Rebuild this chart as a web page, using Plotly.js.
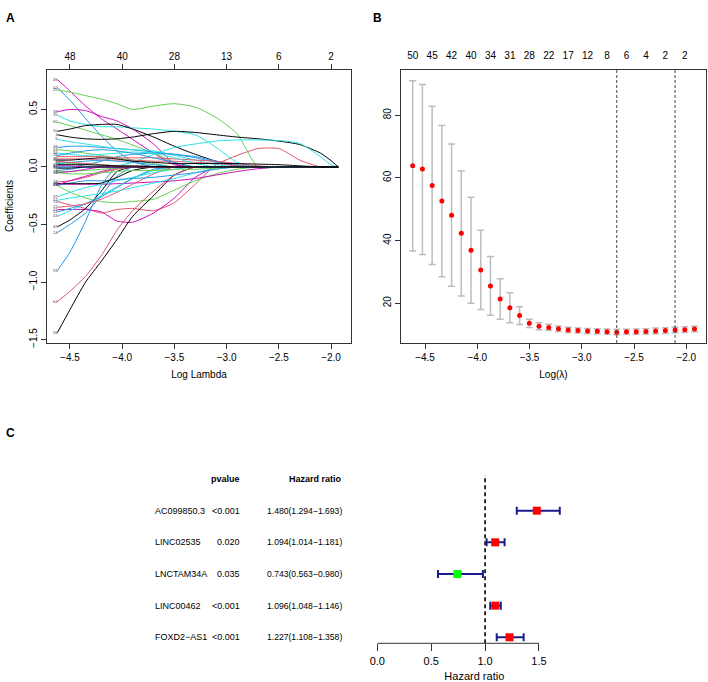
<!DOCTYPE html>
<html><head><meta charset="utf-8">
<script src="https://cdn.plot.ly/plotly-3.0.1.min.js"></script>
<style>html,body{margin:0;padding:0;background:#fff}#chart{width:708px;height:682px}</style>
</head><body><div id="chart"></div>
<script>
// ---------- Panel A: coefficient paths ----------
const logLambdaGrid = [-4.62,-4.5,-4.35,-4.2,-4.05,-3.9,-3.7,-3.5,-3.3,-3.1,-2.9,-2.7,-2.5,-2.3,-2.1,-2.0,-1.93];
const coefPaths = [
 [0.76,0.66,0.53,0.42,0.33,0.24,0.12,0.02,0,0,0,0,0,0,0,0,0],
 [0.69,0.58,0.42,0.27,0.14,0.05,0,0,0,0,0,0,0,0,0,0,0],
 [0.67,0.65,0.62,0.59,0.55,0.50,0.53,0.55,0.52,0.43,0.29,0,0,0,0,0,0],
 [0.48,0.50,0.49,0.44,0.40,0.33,0.20,0.03,0,0,0,0,0,0,0,0,0],
 [0.39,0.36,0.32,0.28,0.24,0.19,0.12,0.04,0,0,0,0,0,0,0,0,0],
 [0.45,0.40,0.37,0.35,0.35,0.34,0.33,0.31,0.28,0.17,0.04,0,0,0,0,0,0],
 [0.31,0.33,0.36,0.37,0.37,0.33,0.26,0.18,0.11,0.05,0.01,0,0,0,0,0,0],
 [0.28,0.26,0.245,0.24,0.245,0.26,0.29,0.31,0.30,0.28,0.26,0.245,0.225,0.195,0.12,0.055,0],
 [0,0,0,0,0.01,0.04,0.11,0.17,0.20,0.225,0.235,0.235,0.23,0.205,0.09,0.02,0],
 [0.17,0.18,0.18,0.17,0.16,0.15,0.13,0.11,0.08,0.04,0.01,0,0,0,0,0,0],
 [-0.30,-0.33,-0.36,-0.40,-0.37,-0.36,-0.38,-0.31,-0.15,0.02,0.10,0.16,0.16,0.06,0,0,0],
 [-0.37,-0.37,-0.37,-0.39,-0.47,-0.48,-0.40,-0.27,-0.09,0,0,0,0,0,0,0,0],
 [-0.16,-0.22,-0.27,-0.30,-0.31,-0.30,-0.28,-0.20,-0.12,-0.06,-0.02,0,0,0,0,0,0],
 [-0.145,-0.15,-0.15,-0.15,-0.145,-0.14,-0.13,-0.12,-0.10,-0.07,-0.04,-0.015,0,0,0,0,0],
 [-1.44,-1.24,-1.00,-0.82,-0.63,-0.43,-0.25,-0.07,0,0,0,0,0,0,0,0,0],
 [-1.17,-1.08,-0.95,-0.77,-0.55,-0.38,-0.21,-0.07,0,0,0,0,0,0,0,0,0],
 [-0.90,-0.74,-0.47,-0.16,0,0,0,0,0,0,0,0,0,0,0,0,0],
 [-0.57,-0.50,-0.40,-0.25,-0.08,0,0,0,0,0,0,0,0,0,0,0,0],
 [-0.52,-0.46,-0.36,-0.21,-0.04,0,0,0,0,0,0,0,0,0,0,0,0],
 [-0.43,-0.38,-0.32,-0.25,-0.17,-0.10,-0.03,0,0,0,0,0,0,0,0,0,0],
 [-0.39,-0.36,-0.32,-0.26,-0.18,-0.10,-0.02,0,0,0,0,0,0,0,0,0,0],
 [-0.35,-0.34,-0.32,-0.28,-0.22,-0.15,-0.06,0,0,0,0,0,0,0,0,0,0],
 [-0.29,-0.27,-0.25,-0.23,-0.21,-0.18,-0.14,-0.10,-0.05,-0.01,0,0,0,0,0,0,0],
 [-0.26,-0.22,-0.18,-0.15,-0.12,-0.09,-0.05,-0.02,0,0,0,0,0,0,0,0,0],
 [-0.16,-0.14,-0.12,-0.12,-0.11,-0.10,-0.09,-0.07,-0.05,-0.02,0,0,0,0,0,0,0],
 [-0.13,-0.12,-0.09,-0.05,-0.02,0,0,0,0,0,0,0,0,0,0,0,0],
 [-0.145,-0.145,-0.145,-0.14,-0.09,-0.03,0,0,0,0,0,0,0,0,0,0,0],
 [-0.155,-0.12,-0.08,-0.04,-0.01,0,0,0,0,0,0,0,0,0,0,0,0],
 [-0.04,-0.04,-0.03,-0.02,-0.01,0,0,0,0,0,0,0,0,0,0,0,0],
 [0.24,0.22,0.20,0.18,0.16,0.15,0.14,0.10,0.06,0.02,0,0,0,0,0,0,0],
 [0.15,0.14,0.12,0.10,0.08,0.06,0.03,0,0,0,0,0,0,0,0,0,0],
 [0,0,0.02,0.05,0.09,0.11,0.12,0.11,0.09,0.05,0.02,0,0,0,0,0,0],
 [0.09,0.09,0.09,0.09,0.08,0.08,0.08,0.07,0.06,0.05,0.03,0.01,0,0,0,0,0],
 [0.07,0.07,0.07,0.06,0.06,0.06,0.05,0.05,0.04,0.03,0.01,0,0,0,0,0,0],
 [0.04,0.03,0.03,0.02,0.01,0,0,0,0,0,0,0,0,0,0,0,0],
 [0.03,0.04,0.05,0.06,0.05,0.04,0.02,0,0,0,0,0,0,0,0,0,0],
 [0.01,0.01,0,0,0,0,0,0,0,0,0,0,0,0,0,0,0],
 [-0.03,-0.02,0,0,0,0,0,0,0,0,0,0,0,0,0,0,0],
 [-0.05,-0.04,-0.02,0,0,0,0,0,0,0,0,0,0,0,0,0,0],
 [-0.05,-0.06,-0.06,-0.05,-0.04,-0.03,-0.03,-0.02,-0.02,-0.01,0,0,0,0,0,0,0],
 [0.12,0.11,0.10,0.11,0.12,0.13,0.12,0.08,0.03,0,0,0,0,0,0,0,0],
 [0.05,0.04,0.03,0.02,0.01,0,0,0,0,0,0,0,0,0,0,0,0],
 [0.10,0.12,0.14,0.15,0.14,0.12,0.08,0.04,0,0,0,0,0,0,0,0,0],
 [-0.01,-0.01,0,0,0,0,0,0,0,0,0,0,0,0,0,0,0],
 [0.02,0.02,0.02,0.015,0.01,0.01,0.005,0,0,0,0,0,0,0,0,0,0],
 [0.06,0.06,0.07,0.08,0.07,0.05,0.04,0.03,0.03,0.03,0.03,0.025,0.02,0.01,0,0,0]
];
const pathColorKeys = ['m','b','g','m','g','c','k','k','c','b','r','m','g','m','k','r','b','b','k','c','b','r','c','c','b','r','k','m','g','c','g','b','r','r','g','b','m','b','m','g','c','r','b','k','k','k'];
const pathLabels = ['46','52','25','38','60','35','10','1','29','48','11','21','19','27','56','64','93','24','49','43','13','22','57','37','15','18','5','71','33','9','44','30','2','40','3','6','12','4','16','7','34','8','26','14','17','20'];
const topTicksA = [-4.5,-4.0,-3.5,-3.0,-2.5,-2.0];
const topCountsA = ['48','40','28','13','6','2'];

// ---------- Panel B: cross-validation ----------
const cvLogLambda = [-4.618,-4.525,-4.432,-4.339,-4.246,-4.153,-4.060,-3.967,-3.874,-3.781,-3.688,-3.595,-3.502,-3.409,-3.316,-3.223,-3.130,-3.037,-2.944,-2.851,-2.758,-2.665,-2.572,-2.479,-2.386,-2.293,-2.200,-2.107,-2.014,-1.921];
const cvMean  = [63.9,62.8,57.6,52.6,48.1,42.3,36.9,30.6,25.5,21.4,18.6,16.1,13.6,12.7,12.3,11.9,11.5,11.3,11.2,11.1,10.9,10.8,10.9,10.9,11.0,11.2,11.3,11.5,11.6,11.8];
const cvUpper = [91.0,89.8,82.8,76.7,70.8,62.2,53.8,43.3,34.9,27.8,23.4,18.9,14.9,13.8,13.3,12.8,12.4,12.1,12.0,11.9,11.8,11.7,11.7,11.8,11.9,12.1,12.2,12.4,12.5,12.7];
const cvLower = [36.7,35.6,32.4,28.5,25.4,22.3,20.0,18.0,16.2,14.9,13.8,13.2,12.3,11.6,11.4,11.0,10.7,10.5,10.4,10.3,10.1,10.0,10.1,10.1,10.2,10.3,10.4,10.6,10.7,10.9];
const cvNonzero = ['50','45','42','40','34','31','28','22','17','12','8','6','4','2','2'];
const lambdaMinLog = -2.665;
const lambda1seLog = -2.107;

// ---------- Panel C: forest plot ----------
const genes   = ['AC099850.3','LINC02535','LNCTAM34A','LINC00462','FOXD2\u2212AS1'];
const pvalues = ['<0.001','0.020','0.035','<0.001','<0.001'];
const hr      = [1.480,1.094,0.743,1.096,1.227];
const hrLow   = [1.294,1.014,0.563,1.048,1.108];
const hrHigh  = [1.693,1.181,0.980,1.146,1.358];

// ---------- build ----------
const palette = {k:'#000000', r:'#DF536B', g:'#61D04F', b:'#2297E6', c:'#28E2E5', m:'#CD0BBC'};
const FONT = 'Liberation Sans, Arial, Helvetica, sans-serif';
const traces = [];

coefPaths.forEach((p, i) => {
  traces.push({x: logLambdaGrid, y: p, xaxis:'x', yaxis:'y', mode:'lines',
    line:{color: palette[pathColorKeys[i]], width:1, shape:'spline', smoothing:0.6},
    hoverinfo:'skip', showlegend:false});
});
traces.push({x: coefPaths.map(() => logLambdaGrid[0]), y: coefPaths.map(p => p[0]), text: pathLabels,
  mode:'text', textposition:'middle left', textfont:{size:4, color:'#444', family:FONT},
  xaxis:'x', yaxis:'y', cliponaxis:false, hoverinfo:'skip', showlegend:false});
traces.push({x:[topTicksA[0]], y:[0], xaxis:'x4', yaxis:'y', mode:'markers', marker:{opacity:0}, hoverinfo:'skip', showlegend:false});

traces.push({x: cvLogLambda, y: cvMean, xaxis:'x2', yaxis:'y2', mode:'markers',
  marker:{color:'#FF0000', size:5},
  error_y:{type:'data', symmetric:false,
    array: cvUpper.map((u,i) => u - cvMean[i]),
    arrayminus: cvLower.map((l,i) => cvMean[i] - l),
    color:'#BDBDBD', thickness:1.5, width:3.5},
  hoverinfo:'skip', showlegend:false});
const evenIdx = cvLogLambda.filter((v,i) => i % 2 === 0);
traces.push({x:[cvLogLambda[0]], y:[cvMean[0]], xaxis:'x5', yaxis:'y2', mode:'markers', marker:{opacity:0}, hoverinfo:'skip', showlegend:false});

const rowY = genes.map((g,i) => genes.length - i);
traces.push({x: hr, y: rowY, xaxis:'x3', yaxis:'y3', mode:'markers',
  marker:{symbol:'square', size:8, color: hr.map(v => v < 1 ? '#00FF00' : '#FF0000')},
  error_x:{type:'data', symmetric:false,
    array: hrHigh.map((h,i) => h - hr[i]),
    arrayminus: hrLow.map((l,i) => hr[i] - l),
    color:'#1C1C8E', thickness:2, width:4},
  cliponaxis:false, hoverinfo:'skip', showlegend:false});

const annotations = [];
const lab = (t, x, y) => annotations.push({text:'<b>'+t+'</b>', x:x/708, y:1-y/682, xref:'paper', yref:'paper',
  showarrow:false, xanchor:'left', yanchor:'middle', font:{size:12, family:FONT, color:'#000'}});
lab('A', 4, 18); lab('B', 371, 18); lab('C', 4, 433);

const axFont = {size:10, family:FONT, color:'#000'};
annotations.push({text:'Coefficients', x:10/708, y:1-206/682, xref:'paper', yref:'paper', textangle:-90,
  xanchor:'center', yanchor:'middle', showarrow:false, font:axFont});

const tfont = {size:9, family:FONT, color:'#000'};
const hfont = {size:8.6, family:FONT, color:'#000'};
annotations.push({text:'<b>pvalue</b>', x:242/708, y:6.0, xref:'paper', yref:'y3', xanchor:'right', yanchor:'middle', showarrow:false, font:tfont});
annotations.push({text:'<b>Hazard ratio</b>', x:344/708, y:6.0, xref:'paper', yref:'y3', xanchor:'right', yanchor:'middle', showarrow:false, font:tfont});
genes.forEach((g,i) => {
  annotations.push({text:g, x:153/708, y:rowY[i], xref:'paper', yref:'y3', xanchor:'left', yanchor:'middle', showarrow:false, font:tfont});
  annotations.push({text:pvalues[i], x:242/708, y:rowY[i], xref:'paper', yref:'y3', xanchor:'right', yanchor:'middle', showarrow:false, font:tfont});
  annotations.push({text: hr[i].toFixed(3)+'('+hrLow[i].toFixed(3)+'\u2212'+hrHigh[i].toFixed(3)+')', x:344/708, y:rowY[i], xref:'paper', yref:'y3', xanchor:'right', yanchor:'middle', showarrow:false, font:hfont});
});

const baseAx = {showgrid:false, zeroline:false, showline:true, linecolor:'#333', linewidth:1, mirror:true,
  ticks:'outside', ticklen:5, tickcolor:'#333', tickfont:axFont};
const domY = [1-343/682, 1-70/682];

const layout = {
  width:708, height:682, margin:{l:0,r:0,t:0,b:0}, paper_bgcolor:'#fff', plot_bgcolor:'#fff',
  font:{family:FONT},
  xaxis: Object.assign({}, baseAx, {domain:[47/708, 351/708], range:[-4.72,-1.809], anchor:'y',
    tickvals: topTicksA, tickformat:'.1f', title:{text:'Log Lambda', font:axFont, standoff:8}}),
  yaxis: Object.assign({}, baseAx, {domain:domY, range:[-1.53,0.843], anchor:'x',
    tickvals:[-1.5,-1.0,-0.5,0,0.5], tickformat:'.1f', tickangle:-90}),
  xaxis4: {overlaying:'x', side:'top', anchor:'y', range:[-4.72,-1.809], tickvals: topTicksA, ticktext: topCountsA,
    showgrid:false, zeroline:false, showline:false, ticks:'outside', ticklen:5, tickcolor:'#333', tickfont:axFont},
  xaxis2: Object.assign({}, baseAx, {domain:[401/708, 706/708], range:[-4.73,-1.811], anchor:'y2',
    tickvals: topTicksA, tickformat:'.1f', title:{text:'Log(\u03bb)', font:axFont, standoff:8}}),
  yaxis2: Object.assign({}, baseAx, {domain:domY, range:[7.34,94.4], anchor:'x2',
    tickvals:[20,40,60,80], tickangle:-90}),
  xaxis5: {overlaying:'x2', side:'top', anchor:'y2', range:[-4.73,-1.811], tickvals: evenIdx, ticktext: cvNonzero,
    showgrid:false, zeroline:false, showline:false, ticks:'outside', ticklen:6, tickcolor:'rgba(0,0,0,0)', tickfont:axFont},
  xaxis3: {domain:[377.3/708, 571.3/708], range:[0,1.8], anchor:'y3', showgrid:false, zeroline:false, showline:false,
    tickvals:[0,0.5,1.0,1.5], tickformat:'.1f', ticks:'outside', ticklen:7, tickcolor:'#333', tickwidth:1,
    tickfont:{size:11, family:FONT, color:'#000'}, title:{text:'Hazard ratio', font:{size:11, family:FONT, color:'#000'}, standoff:6}},
  yaxis3: {domain:[1-643.3/682, 1-470/682], range:[0.81,6.286], anchor:'x3', visible:false},
  shapes: [
    {type:'line', xref:'x2', yref:'y2 domain', x0:lambdaMinLog, x1:lambdaMinLog, y0:0, y1:1, line:{color:'#444', width:1, dash:'3px,2px'}},
    {type:'line', xref:'x2', yref:'y2 domain', x0:lambda1seLog, x1:lambda1seLog, y0:0, y1:1, line:{color:'#444', width:1, dash:'3px,2px'}},
    {type:'line', xref:'x3', yref:'y3 domain', x0:0, x1:1.5, y0:0, y1:0, line:{color:'#333', width:1}},
    {type:'line', xref:'x3', yref:'y3', x0:1, x1:1, y0:0.81, y1:6.128, line:{color:'#000', width:1.6, dash:'4px,3px'}, layer:'below'}
  ],
  annotations: annotations
};

Plotly.newPlot('chart', traces, layout, {staticPlot:true, displayModeBar:false});
</script></body></html>
